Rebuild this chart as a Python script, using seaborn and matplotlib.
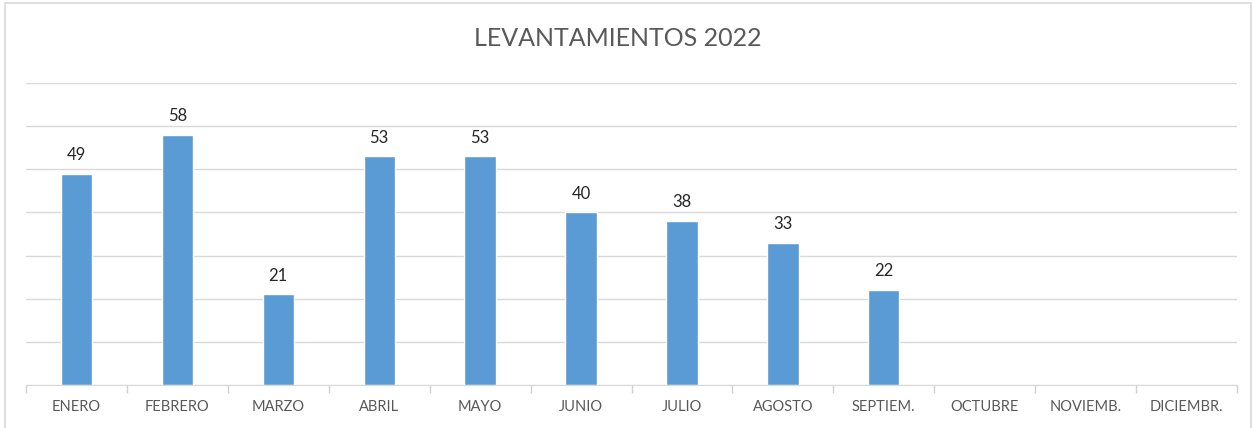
import numpy as np
import pandas as pd
import matplotlib
matplotlib.use('Agg')
import matplotlib.pyplot as plt
import seaborn as sns
from matplotlib.patches import Rectangle

# Monthly counts (no data yet for the last three months)
months = ['ENERO', 'FEBRERO', 'MARZO', 'ABRIL', 'MAYO', 'JUNIO', 'JULIO',
          'AGOSTO', 'SEPTIEM.', 'OCTUBRE', 'NOVIEMB.', 'DICIEMBR.']
values = [49, 58, 21, 53, 53, 40, 38, 33, 22, np.nan, np.nan, np.nan]

df = pd.DataFrame({'mes': months, 'total': values})

sns.set_style('white')
plt.rcParams['font.family'] = ['Lato', 'DejaVu Sans']

fig = plt.figure(figsize=(12.55, 4.28), dpi=100)
ax = fig.add_axes([0.0207, 0.1005, 0.965, 0.7055])

sns.barplot(data=df, x='mes', y='total', order=months, color='#5B9BD5',
            saturation=1, width=0.31, ax=ax, errorbar=None)

# data labels
for i, v in enumerate(values):
    if not np.isnan(v):
        ax.text(i, v + 2.5, f'{int(v)}', ha='center', va='bottom',
                fontsize=12, color='#262626')

ax.set_ylim(0, 70)
ax.set_xlim(-0.5, len(months) - 0.5)
ax.set_yticks(range(0, 71, 10))
ax.yaxis.grid(True, color='#D9D9D9', linewidth=1)
ax.set_axisbelow(True)
ax.set_yticklabels([])
ax.tick_params(axis='y', length=0)
ax.set_xlabel('')
ax.set_ylabel('')

# category separator ticks
ax.set_xticks(np.arange(-0.5, len(months), 1), minor=True)
ax.tick_params(axis='x', which='minor', bottom=True, length=6,
               color='#D0D0D0', width=1)
ax.tick_params(axis='x', which='major', length=0, labelsize=10.5,
               labelcolor='#595959', pad=11)

for s in ['top', 'left', 'right']:
    ax.spines[s].set_visible(False)
ax.spines['bottom'].set_color('#D9D9D9')

fig.text(0.492, 0.91, 'LEVANTAMIENTOS 2022', ha='center', va='center',
         fontsize=18, color='#595959')

# chart frame
fig.patches.append(Rectangle((0.004, -0.05), 0.993, 1.043, transform=fig.transFigure,
                             fill=False, edgecolor='#D9D9D9', linewidth=1.2))

fig.savefig('out.png', dpi=100)
